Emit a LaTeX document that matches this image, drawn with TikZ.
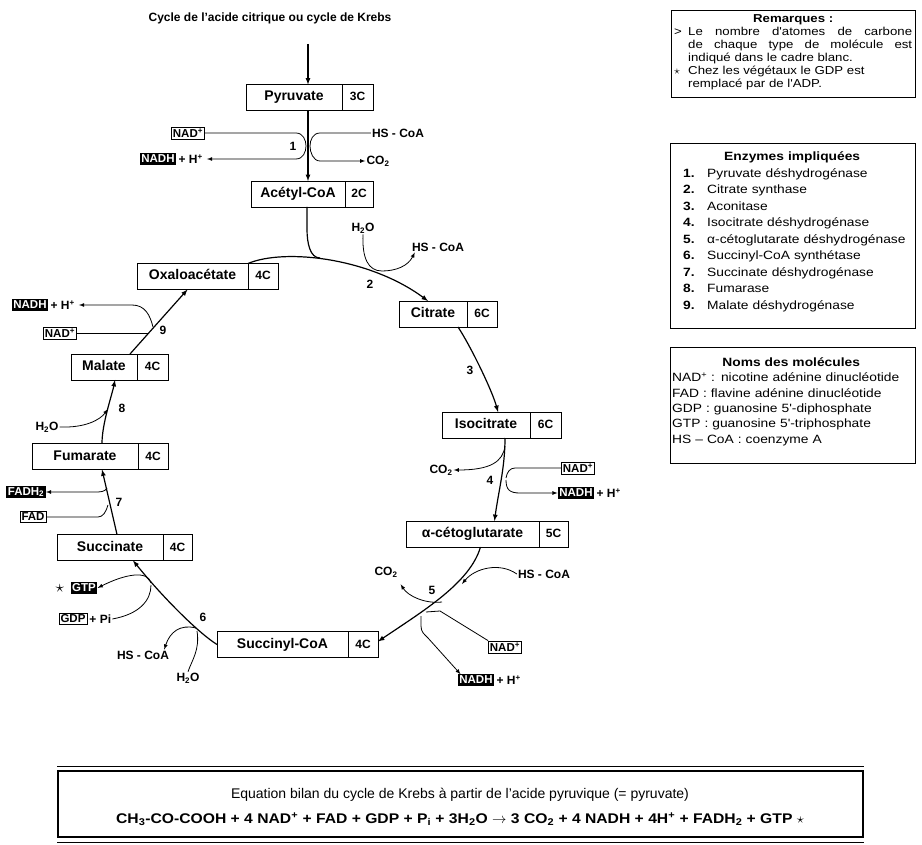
\documentclass[tikz,border=0pt]{standalone}
\usepackage{amssymb}
\usepackage{fontspec}
\setmainfont{Liberation Sans}
\newfontfamily\widefont{Liberation Sans}[FakeStretch=1.15]
\newfontfamily\eqfont{Liberation Sans}[FakeStretch=1.12]
\usetikzlibrary{positioning,arrows}
\tikzset{
  mol/.style={draw,fill=white,line width=0.9pt,minimum height=26pt,inner sep=0pt,
    outer sep=0pt,anchor=west,text height=10pt,text depth=3pt,
    font=\fontsize{14}{16}\selectfont\bfseries},
  cnum/.style={mol,minimum width=30pt,font=\fontsize{12}{14}\selectfont\bfseries},
  lbl/.style={inner sep=1pt,font=\fontsize{12}{14}\selectfont\bfseries},
  enz/.style={lbl,font=\fontsize{12}{14}\selectfont\bfseries},
  nadbox/.style={draw,line width=0.6pt,inner sep=1.5pt,font=\fontsize{11.5}{13}\selectfont\bfseries},
  nadhbox/.style={fill=black,text=white,inner sep=1.6pt,font=\fontsize{11.5}{13}\selectfont\bfseries},
  main/.style={line width=1.2pt},
  side/.style={line width=0.8pt},
  frame/.style={line width=0.8pt},
  infotext/.style={anchor=north west,inner sep=0pt,font=\widefont\fontsize{12}{13}\selectfont},
  >=latex
}
\begin{document}
\begin{tikzpicture}[x=1pt,y=-1pt]
\useasboundingbox (0,0) rectangle (922,845);
\node[font=\fontsize{12}{14}\selectfont\bfseries] (title) at (270,18) {Cycle de l'acide citrique ou cycle de Krebs};

% molecules
\node[mol,minimum width=96pt] (pyr) at (246,97.5) {Pyruvate};
\node[cnum,right=0pt of pyr,minimum width=31pt] (pyrC) {3C};
\node[mol,minimum width=94pt] (acc) at (251,194) {Acétyl-CoA};
\node[cnum,right=0pt of acc,minimum width=28pt] (accC) {2C};
\node[mol,minimum width=68pt] (cit) at (399,314) {Citrate};
\node[cnum,right=0pt of cit] (citC) {6C};
\node[mol,minimum width=88pt] (iso) at (442,425) {Isocitrate};
\node[cnum,right=0pt of iso,minimum width=31pt] (isoC) {6C};
\node[mol,minimum width=133pt] (akg) at (406,534) {α-cétoglutarate};
\node[cnum,right=0pt of akg,minimum width=29pt] (akgC) {5C};
\node[mol,minimum width=131pt] (sco) at (217,644.5) {Succinyl-CoA};
\node[cnum,right=0pt of sco] (scoC) {4C};
\node[mol,minimum width=106pt] (suc) at (57,547.5) {Succinate};
\node[cnum,right=0pt of suc,minimum width=29pt] (sucC) {4C};
\node[mol,minimum width=106pt] (fum) at (32,456.5) {Fumarate};
\node[cnum,right=0pt of fum] (fumC) {4C};
\node[mol,minimum width=66pt] (mal) at (71,367) {Malate};
\node[cnum,right=0pt of mal,minimum width=31pt] (malC) {4C};
\node[mol,minimum width=111pt] (oxa) at (137,276.5) {Oxaloacétate};
\node[cnum,right=0pt of oxa] (oxaC) {4C};

% step 1
\coordinate (in) at (308,44);
\draw[main,->] (in) -- (in |- pyr.north);
\draw[main,->] (in |- pyr.south) -- (in |- acc.north);
\node[nadbox] (nad1) at (188,133) {NAD\textsuperscript{+}};
\node[nadhbox] (nadh1) at (158,159) {NADH};
\node[lbl,right=1pt of nadh1] (hp1) {+ H\textsuperscript{+}};
\node[lbl] (hs1) at (398,133) {HS - CoA};
\node[lbl] (co21) at (378,161) {CO\textsubscript{2}};
\draw[side,->] (nad1.east) -- (296,133) .. controls (303,133) and (306,140) .. (306,146)
  .. controls (306,152) and (303,159) .. (296,159) -- ([xshift=3pt]hp1.east);
\draw[side,->] (hs1.west) -- (320,133) .. controls (313,133) and (310,140) .. (310,146)
  .. controls (310,152) and (313,161) .. (320,161) -- (co21.west);
\node[enz] (e1) at (293,146) {1};

% step 2
\draw[main,->] (oxaC.north west) .. controls (285,248) and (370,258) .. ([xshift=-5pt]cit.north);
\draw[main] ([xshift=9pt]acc.south) -- ++(0,22) .. controls +(0,14) and +(-10,0) .. (320,258);
\node[lbl] (h2o2) at (363,228) {H\textsubscript{2}O};
\node[lbl] (hs2) at (438,247) {HS - CoA};
\draw[side,->] (h2o2.south) .. controls (362,258) and (368,271) .. (382,271)
  .. controls (396,271) and (408,266) .. ([xshift=4pt]hs2.south west);
\node[enz] (e2) at (370,284) {2};

% step 3
\draw[main,->] ([xshift=25pt]cit.south) .. controls +(12,18) and +(-6,-22) .. ([xshift=12pt]iso.north);
\node[enz] (e3) at (470,370) {3};

% step 4
\draw[main,->] ([xshift=19pt]iso.south) .. controls +(0,30) and +(4,-30) .. ([xshift=22pt]akg.north);
\node[lbl] (co24) at (441,470) {CO\textsubscript{2}};
\node[nadbox] (nad4) at (578,468) {NAD\textsuperscript{+}};
\node[nadhbox] (nadh4) at (576,493) {NADH};
\node[lbl,right=1pt of nadh4] (hp4) {+ H\textsuperscript{+}};
\coordinate (j4a) at (505,446);
\coordinate (j4b) at (506,480);
\draw[side,->] (j4a) .. controls (503,462) and (490,470) .. (co24.east);
\draw[side] (nad4.west) -- (515,468) .. controls (510,468) and (507,472) .. (506,478);
\draw[side,->] (j4b) .. controls (506,490) and (510,493) .. (520,493) -- (nadh4.west);
\node[enz] (e4) at (490,480) {4};

% step 5
\draw[main,->] ([xshift=8pt]akg.south) .. controls (470,583) and (423,611) .. ([yshift=3pt]scoC.east);
\node[lbl] (hs5) at (544,574) {HS - CoA};
\node[lbl] (co25) at (386,572) {CO\textsubscript{2}};
\node[nadbox] (nad5) at (505,647) {NAD\textsuperscript{+}};
\node[nadhbox] (nadh5) at (476,680) {NADH};
\node[lbl,right=1pt of nadh5] (hp5) {+ H\textsuperscript{+}};
\coordinate (j5a) at (462,584);
\coordinate (j5b) at (442,602);
\coordinate (j5c) at (421,616);
\draw[side,->] (hs5.west) .. controls (500,562) and (475,568) .. (j5a);
\draw[side,->] (j5b) .. controls (425,604) and (408,596) .. ([shift={(2pt,-6pt)}]co25.south east);
\draw[side] (nad5.north west) -- (440,611) -- (426,612);
\draw[side,->] (j5c) -- (421,626) .. controls (421,632) and (424,634) .. (428,638) -- ([xshift=3pt]nadh5.north west);
\node[enz] (e5) at (432,590) {5};

% step 6
\draw[main,->] (sco.west) .. controls (200,634) and (165,600) .. ([xshift=23pt]suc.south);
\node[lbl] (hs6) at (143,655) {HS - CoA};
\node[lbl] (h2o6) at (188,678) {H\textsubscript{2}O};
\node[nadhbox] (gtp) at (84,588) {GTP};
\node[lbl,left=5pt of gtp,font=\fontsize{18}{18}\selectfont] (star6) {$\star$};
\node[nadbox] (gdp) at (73,619) {GDP};
\node[lbl,right=1pt of gdp] (pi6) {+ Pi};
\coordinate (j6a) at (196,628);
\coordinate (j6b) at (151,583);
\draw[side,->] (j6a) .. controls (180,624) and (170,632) .. ([xshift=-6pt]hs6.north east);
\draw[side] (h2o6.north) .. controls (192,660) and (200,650) .. (197,631);
\draw[side,->] (j6b) .. controls (148,570) and (125,574) .. (gtp.east);
\draw[side] (pi6.east) .. controls (140,614) and (151,600) .. (151,585);
\node[enz] (e6) at (203,617) {6};

% step 7
\draw[main,->] ([xshift=7pt]suc.north) -- ([xshift=17pt]fum.south);
\node[nadhbox] (fadh) at (26,492) {FADH\textsubscript{2}};
\node[nadbox] (fad) at (33,517) {FAD};
\coordinate (j7) at (107,488);
\draw[side,->] (j7) .. controls (105,492) and (100,492) .. (95,492) -- (fadh.east);
\draw[side] (fad.east) -- (98,517) .. controls (103,517) and (106,512) .. (108,505);
\node[enz] (e7) at (119,502) {7};

% step 8
\draw[main,->] ([xshift=17pt]fum.north) .. controls +(0,-20) and +(-3,15) .. ([xshift=11pt]mal.south);
\node[lbl] (h2o8) at (47,427) {H\textsubscript{2}O};
\draw[side,->] (h2o8.east) .. controls (85,428) and (100,420) .. (108,409);
\node[enz] (e8) at (122,408) {8};

% step 9
\draw[main,->] ([xshift=26pt]mal.north) -- ([xshift=-5pt]oxa.south);
\node[nadhbox] (nadh9) at (30,305) {NADH};
\node[lbl,right=1pt of nadh9] (hp9) {+ H\textsuperscript{+}};
\node[nadbox] (nad9) at (60,333) {NAD\textsuperscript{+}};
\coordinate (j9) at (153,327);
\draw[side,->] (j9) .. controls (150,315) and (145,305) .. (132,305) -- ([xshift=3pt]hp9.east);
\draw[side] (nad9.east) -- (148,333);
\node[enz] (e9) at (163,330) {9};

% boxes on the right
\draw[frame] (671,10) rectangle (915,97);
\node[infotext,text width=238pt,align=justify,font=\widefont\fontsize{11.5}{13}\selectfont] (rem) at (674,14) {%
  {\centering\bfseries Remarques :\par}
  \noindent\hangindent=14pt\hangafter=1\makebox[14pt][l]{>}Le nombre d'atomes de carbone\linebreak
  de chaque type de molécule est\linebreak indiqué dans le cadre blanc.\par
  \noindent\hangindent=14pt\hangafter=1\makebox[14pt][l]{$\star$}Chez les végétaux le GDP est\hfill\null\linebreak
  remplacé par de l'ADP.\par};
\draw[frame] (670,143) rectangle (915,328);
\node[infotext,text width=238pt,align=left,font=\widefont\fontsize{12}{16.5}\selectfont] (enzy) at (673,152) {%
  \hfil\textbf{Enzymes impliquées}\\
  \hspace*{10pt}\makebox[24pt][l]{\bfseries 1.}Pyruvate déshydrogénase\\
  \hspace*{10pt}\makebox[24pt][l]{\bfseries 2.}Citrate synthase\\
  \hspace*{10pt}\makebox[24pt][l]{\bfseries 3.}Aconitase\\
  \hspace*{10pt}\makebox[24pt][l]{\bfseries 4.}Isocitrate déshydrogénase\\
  \hspace*{10pt}\makebox[24pt][l]{\bfseries 5.}α-cétoglutarate déshydrogénase\\
  \hspace*{10pt}\makebox[24pt][l]{\bfseries 6.}Succinyl-CoA synthétase\\
  \hspace*{10pt}\makebox[24pt][l]{\bfseries 7.}Succinate déshydrogénase\\
  \hspace*{10pt}\makebox[24pt][l]{\bfseries 8.}Fumarase\\
  \hspace*{10pt}\makebox[24pt][l]{\bfseries 9.}Malate déshydrogénase};
\draw[frame] (670,347) rectangle (915,463);
\node[infotext,text width=238pt,align=left,font=\widefont\fontsize{12}{15.5}\selectfont] (noms) at (672,357) {%
  \hfil\textbf{Noms des molécules}\\
  NAD\textsuperscript{+} : nicotine adénine dinucléotide\\
  FAD : flavine adénine dinucléotide\\
  GDP : guanosine 5'-diphosphate\\
  GTP : guanosine 5'-triphosphate\\
  HS – CoA : coenzyme A};

% equation
\node[draw,line width=2pt,minimum width=805pt,minimum height=66pt,anchor=north west] (bilan) at (57,770) {};
\draw[line width=0.5pt] ([yshift=4pt]bilan.north west) -- ([yshift=4pt]bilan.north east);
\draw[line width=0.5pt] ([yshift=-4pt]bilan.south west) -- ([yshift=-4pt]bilan.south east);
\node[font=\fontsize{14}{16}\selectfont] (eqt) at (460,795) {Equation bilan du cycle de Krebs à partir de l'acide pyruvique (= pyruvate)};
\node[font=\eqfont\fontsize{14}{16}\selectfont\bfseries] (eq) at (460,819) {CH\textsubscript{3}-CO-COOH + 4 NAD\textsuperscript{+} + FAD + GDP + P\textsubscript{i} + 3H\textsubscript{2}O $\rightarrow$ 3 CO\textsubscript{2} + 4 NADH + 4H\textsuperscript{+} + FADH\textsubscript{2} + GTP $\star$};
\end{tikzpicture}
\end{document}
